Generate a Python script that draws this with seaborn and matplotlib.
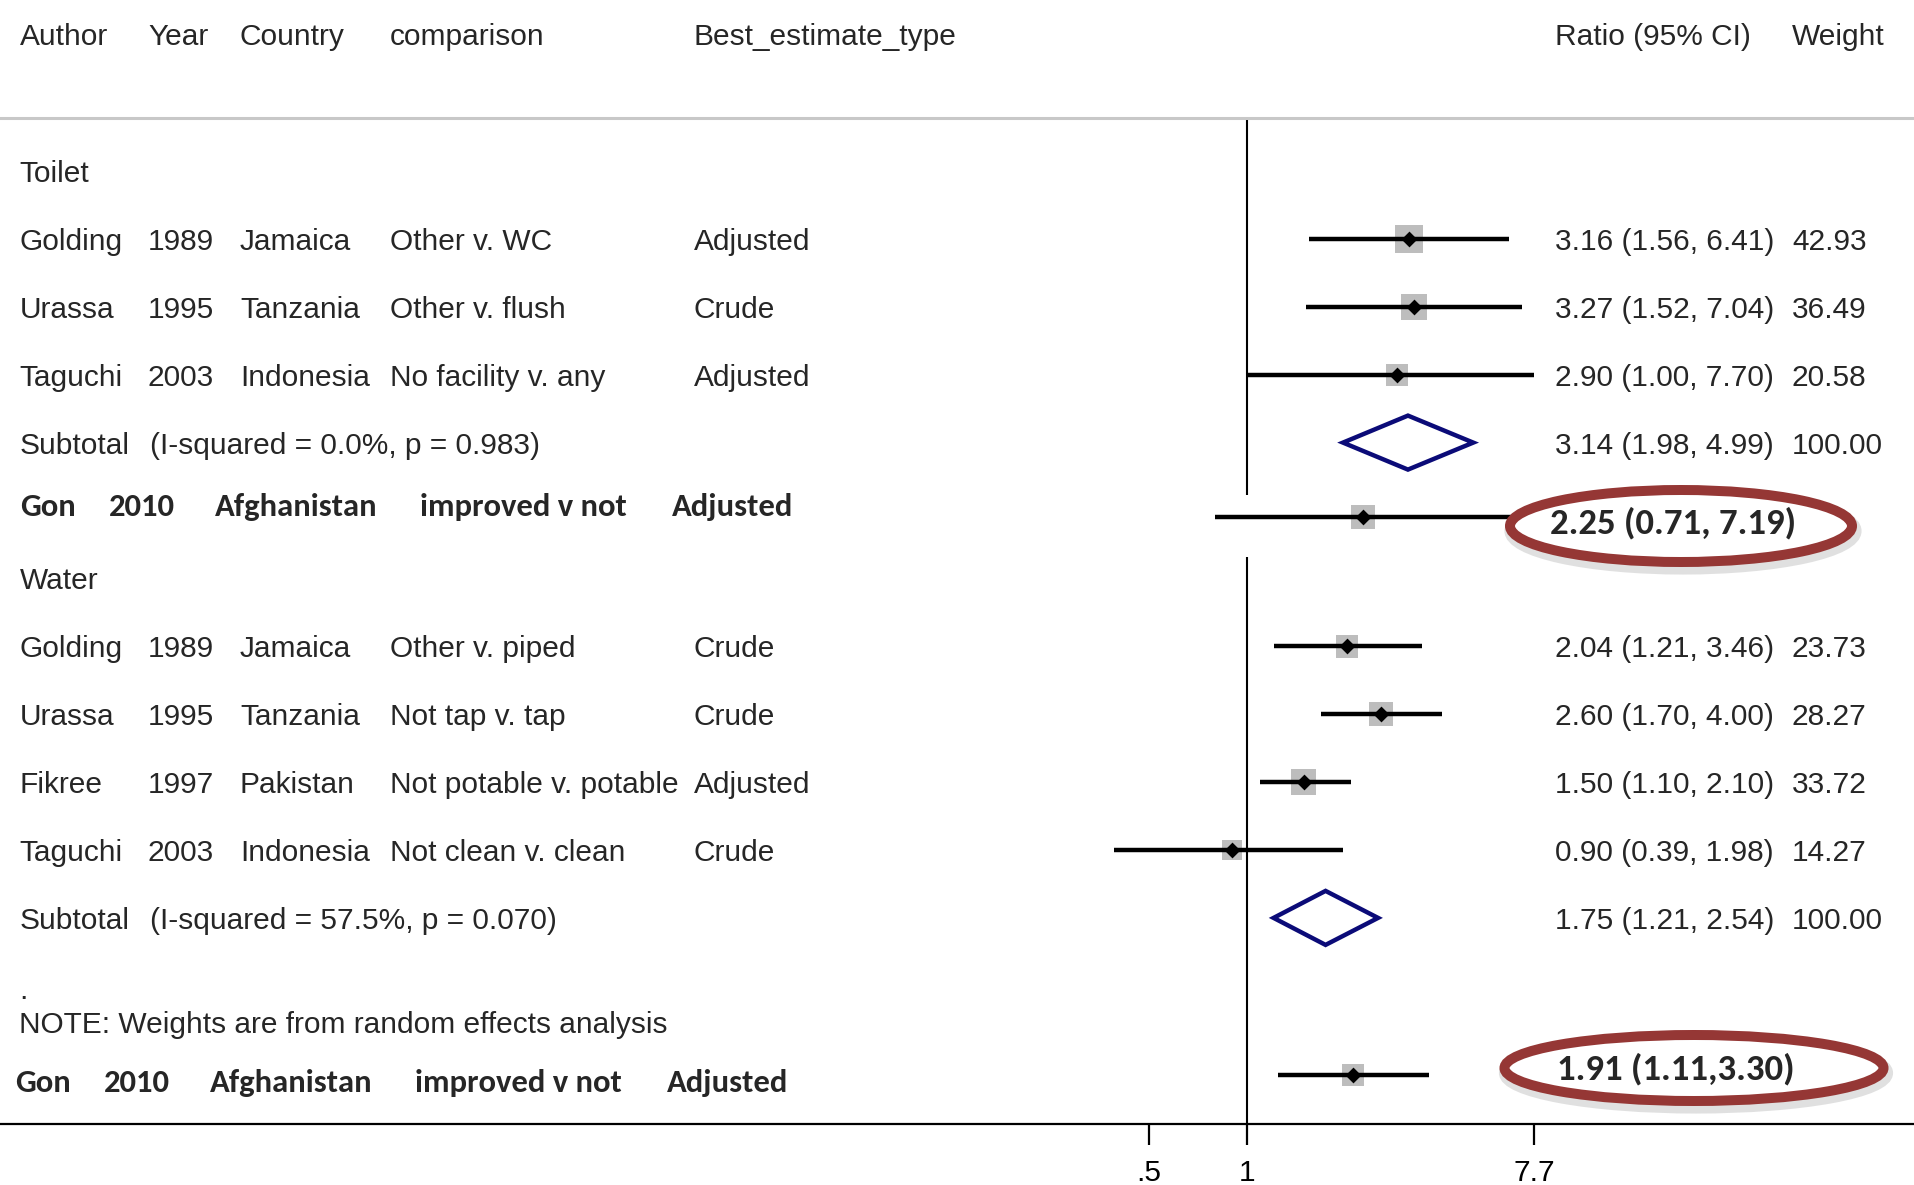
import numpy as np
import pandas as pd
import seaborn as sns
import matplotlib.pyplot as plt
from matplotlib.patches import Ellipse
from matplotlib.ticker import NullLocator

# toilet studies
toilet_author = ["Golding", "Urassa", "Taguchi"]
toilet_year = ["1989", "1995", "2003"]
toilet_country = ["Jamaica", "Tanzania", "Indonesia"]
toilet_comp = ["Other v. WC", "Other v. flush", "No facility v. any"]
toilet_type = ["Adjusted", "Crude", "Adjusted"]
toilet_ratio = [3.16, 3.27, 2.90]
toilet_lo = [1.56, 1.52, 1.00]
toilet_hi = [6.41, 7.04, 7.70]
toilet_weight = [42.93, 36.49, 20.58]
toilet_sub = [3.14, 1.98, 4.99]
toilet_het = "(I-squared = 0.0%, p = 0.983)"

# water studies
water_author = ["Golding", "Urassa", "Fikree", "Taguchi"]
water_year = ["1989", "1995", "1997", "2003"]
water_country = ["Jamaica", "Tanzania", "Pakistan", "Indonesia"]
water_comp = ["Other v. piped", "Not tap v. tap", "Not potable v. potable", "Not clean v. clean"]
water_type = ["Crude", "Crude", "Adjusted", "Crude"]
water_ratio = [2.04, 2.60, 1.50, 0.90]
water_lo = [1.21, 1.70, 1.10, 0.39]
water_hi = [3.46, 4.00, 2.10, 1.98]
water_weight = [23.73, 28.27, 33.72, 14.27]
water_sub = [1.75, 1.21, 2.54]
water_het = "(I-squared = 57.5%, p = 0.070)"

# pasted-in Gon 2010 rows (label text, and marker as drawn in the picture)
gon_words = ["Gon", "2010", "Afghanistan", "improved v not", "Adjusted"]
gon_labels = ["2.25 (0.71, 7.19)", "1.91 (1.11,3.30)"]
gon_est_drawn = [2.28, 2.13]
gon_lo_drawn = [0.80, 1.25]
gon_hi_drawn = [7.19, 3.64]

header = ["Author", "Year", "Country", "comparison", "Best_estimate_type", "Ratio (95% CI)", "Weight"]
xticks = [0.5, 1, 7.7]
xtick_labels = [".5", "1", "7.7"]

sns.set_theme(style="white")
plt.rcParams["font.family"] = ["Liberation Sans", "DejaVu Sans"]
BOLD = ["Carlito", "Lato", "DejaVu Sans"]

W, H = 1915, 1185
fig = plt.figure(figsize=(W / 100, H / 100), dpi=100)

PX = 324.5      # pixels per decade
X_ONE = 1246.7  # pixel of ratio 1


def px2val(p):
    return 10 ** ((p - X_ONE) / PX)


ROW0, STEP = 171, 67.9
TOFF = 3  # text sits a little lower than the marker row


def rowy(i):
    return ROW0 + STEP * i


ax_top, ax_bot = 118, 1124
ax = fig.add_axes([0, 1 - ax_bot / H, 1, (ax_bot - ax_top) / H])
ax.set_xscale("log")
ax.set_xlim(px2val(0), px2val(W))
ax.set_ylim(ax_bot, ax_top)
ax.set_facecolor("white")

tx = fig.add_axes([0, 0, 1, 1], zorder=5)
tx.set_xlim(0, W)
tx.set_ylim(H, 0)
tx.axis("off")
tx.patch.set_alpha(0)

col_x = [19.5, 148, 240, 389.6, 693.7, 1554.7, 1792]
FS = 21.5


def put(x, y, s, **kw):
    tx.text(x, y + TOFF, s, fontsize=FS, va="center", **kw)


for x, h in zip(col_x, header):
    put(x, 34, h)


def fmt(e, l, u):
    return f"{e:.2f} ({l:.2f}, {u:.2f})"


def box_side(w):
    return 9 + 2.8 * np.sqrt(w)


def draw_group(name, start, authors, years, countries, comps, types,
               ratio, lo, hi, weight, sub, het):
    put(col_x[0], rowy(start), name)
    df = pd.DataFrame({"ratio": ratio, "lo": lo, "hi": hi, "weight": weight})
    df["y"] = [rowy(start + 1 + i) for i in range(len(df))]
    side_pt = box_side(df["weight"]) / 1.389
    ax.scatter(df["ratio"], df["y"], marker="s", s=side_pt ** 2,
               color="#bdbdbd", linewidths=0, zorder=2)
    ax.hlines(df["y"], df["lo"], df["hi"], color="black", lw=3.2, zorder=3)
    sns.scatterplot(data=df, x="ratio", y="y", marker="D", s=65,
                    color="black", edgecolor="black", linewidth=0, ax=ax, zorder=4)
    for i in range(len(df)):
        y = df["y"][i]
        cells = [authors[i], years[i], countries[i], comps[i], types[i],
                 fmt(ratio[i], lo[i], hi[i]), f"{weight[i]:.2f}"]
        for x, c in zip(col_x, cells):
            put(x, y, c)
    ys = rowy(start + 1 + len(df))
    e, l, u = sub
    ax.fill([l, e, u, e], [ys, ys - 27, ys, ys + 27], facecolor="none",
            edgecolor="#0b0b78", lw=3.2, zorder=3, joinstyle="miter")
    put(col_x[0], ys, "Subtotal")
    put(150, ys, het)
    put(col_x[5], ys, fmt(e, l, u))
    put(col_x[6], ys, "100.00")


draw_group("Toilet", 0, toilet_author, toilet_year, toilet_country, toilet_comp,
           toilet_type, toilet_ratio, toilet_lo, toilet_hi, toilet_weight,
           toilet_sub, toilet_het)
draw_group("Water", 6, water_author, water_year, water_country, water_comp,
           water_type, water_ratio, water_lo, water_hi, water_weight,
           water_sub, water_het)

ax.axvline(1, color="black", lw=1.5, zorder=1)
# the pasted Gon row hides the null line there
ax.axhspan(495, 557, xmin=600 / W, xmax=1, color="white", zorder=1.5, lw=0)

gon_line_y = [517, 1075]
gon_text_y = [507, 1083]
gon_x = [[20, 109, 215, 420, 672], [15, 104, 210, 415, 667]]
gon_side = [24, 22]
for k in range(2):
    y = gon_line_y[k]
    ax.scatter([gon_est_drawn[k]], [y], marker="s", s=(gon_side[k] / 1.389) ** 2,
               color="#bdbdbd", linewidths=0, zorder=2)
    ax.hlines(y, gon_lo_drawn[k], gon_hi_drawn[k], color="black", lw=3.2, zorder=3)
    ax.scatter([gon_est_drawn[k]], [y], marker="D", s=65, color="black",
               linewidths=0, zorder=4)
    for x, w in zip(gon_x[k], gon_words):
        tx.text(x, gon_text_y[k], w, fontsize=23.5, fontweight="bold",
                family=BOLD, va="center")

# red ellipses around pasted ratios
ell = [((1681, 526), 342, 72, 1673, 523), ((1694, 1068), 379, 66, 1676, 1069)]
for (c, w, h, lx, ly), lab in zip(ell, gon_labels):
    tx.add_patch(Ellipse((c[0] + 2, c[1] + 5), w + 4, h + 4, facecolor="none",
                         edgecolor="#9a9a9a", lw=8, alpha=0.3))
    tx.add_patch(Ellipse(c, w, h, facecolor="white", edgecolor="#953735", lw=7.2))
    tx.text(lx, ly, lab, fontsize=26.5, fontweight="bold", family=BOLD,
            ha="center", va="center")

put(19.5, 988, ".")
put(19.5, 1022, "NOTE: Weights are from random effects analysis")

ax.set_yticks([])
ax.set_xticks(xticks)
ax.set_xticklabels(xtick_labels)
ax.xaxis.set_minor_locator(NullLocator())
ax.tick_params(axis="x", bottom=True, direction="out", length=15, width=1.6,
               pad=10, labelsize=FS, colors="black")
for s in ["left", "right"]:
    ax.spines[s].set_visible(False)
ax.spines["top"].set_color("#c8c8c8")
ax.spines["top"].set_linewidth(2.2)
ax.spines["bottom"].set_color("black")
ax.spines["bottom"].set_linewidth(1.6)
ax.set_xlabel("")
ax.set_ylabel("")

fig.savefig("out.png", dpi=100, facecolor="white")
